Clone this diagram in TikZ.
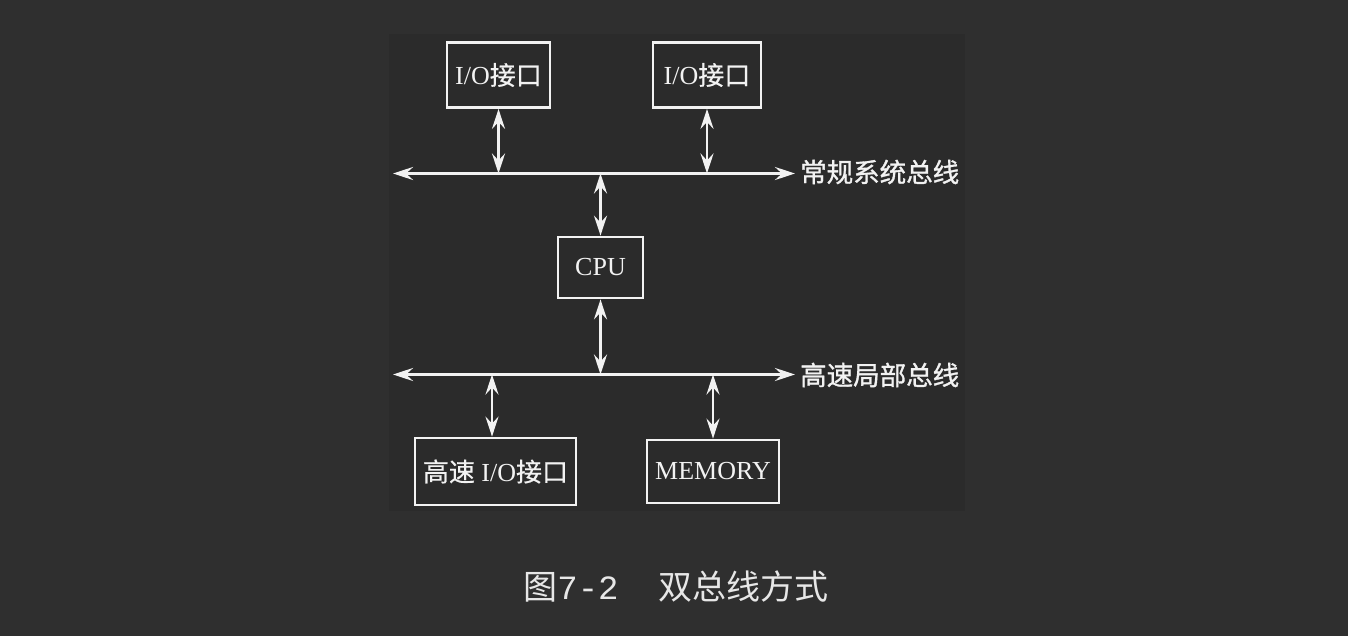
\documentclass[tikz,border=0pt]{standalone}
\usepackage{fontspec}
\setmainfont{Liberation Serif}
\newfontfamily\cjk{Noto Sans CJK SC}[FakeBold=1.2]
\newfontfamily\boxcjk{Noto Sans CJK SC}[FakeBold=0.5]
\newfontfamily\capcjk{Noto Sans CJK SC}
\newfontfamily\capmono{Liberation Mono}
\usetikzlibrary{arrows.meta}
\definecolor{bgouter}{HTML}{2F2F2F}
\definecolor{bginner}{HTML}{2B2B2B}
\definecolor{fg}{HTML}{F2F2F2}
\tikzset{
  box/.style={draw=fg, line width=2.8pt, inner sep=0pt, text=fg, font=\fontsize{26}{28}\selectfont},
  link/.style={draw=fg, line width=2.8pt, {Stealth[length=20pt,width=13pt,inset=7pt]}-{Stealth[length=20pt,width=13pt,inset=7pt]}},
  buslabel/.style={text=fg, anchor=west, inner sep=0pt, font=\cjk\fontsize{26.5}{28}\selectfont},
}
\begin{document}
\begin{tikzpicture}[x=1pt,y=-1pt]
\useasboundingbox (0,0) rectangle (1348,636);
\fill[bgouter] (0,0) rectangle (1348,636);
\fill[bginner] (389,34) rectangle (965,511);
% boxes
\node[box, minimum width=103pt, minimum height=65pt] (io1) at (498.5,75) {I/O{\boxcjk 接口}};
\node[box, minimum width=108pt, minimum height=65pt] (io2) at (707,75) {I/O{\boxcjk 接口}};
\node[box, minimum width=85pt, minimum height=61pt] (cpu) at (600.5,267.5) {CPU};
\node[box, minimum width=161pt, minimum height=67pt] (hio) at (495.5,471.5) {{\boxcjk 高速} I/O{\boxcjk 接口}};
\node[box, minimum width=132pt, minimum height=63pt] (mem) at (713,471.5) {MEMORY};
% bus 1
\coordinate (b1l) at (393,173.5);
\coordinate (b1r) at (795,173.5);
\draw[link] (b1l) -- (b1r);
\node[buslabel] (l1) at (800,172) {常规系统总线};
% bus 2
\coordinate (b2l) at (393,374.5);
\coordinate (b2r) at (795,374.5);
\draw[link] (b2l) -- (b2r);
\node[buslabel] (l2) at (800,375) {高速局部总线};
% bus taps
\coordinate (t1) at (io1.south |- b1l);
\coordinate (t2) at (707,173.5);
\coordinate (t3) at (cpu.north |- b1l);
\coordinate (t4) at (cpu.south |- b2l);
\coordinate (t5) at (492,374.5);
\coordinate (t6) at (713,374.5);
\draw[link] (io1.south) -- (t1);
\draw[link] (io2.south -| t2) -- (t2);
\draw[link] (t3) -- (cpu.north);
\draw[link] (cpu.south) -- (t4);
\draw[link] (t5) -- (t5 |- hio.north);
\draw[link] (t6) -- (t6 |- mem.north);
% caption
\node[text=fg!90!gray, inner sep=0pt, font=\fontsize{34}{36}\selectfont] (cap) at (676,587) {{\capcjk 图}{\capmono 7-2}\hspace{40pt}{\capcjk 双总线方式}};
\end{tikzpicture}
\end{document}
